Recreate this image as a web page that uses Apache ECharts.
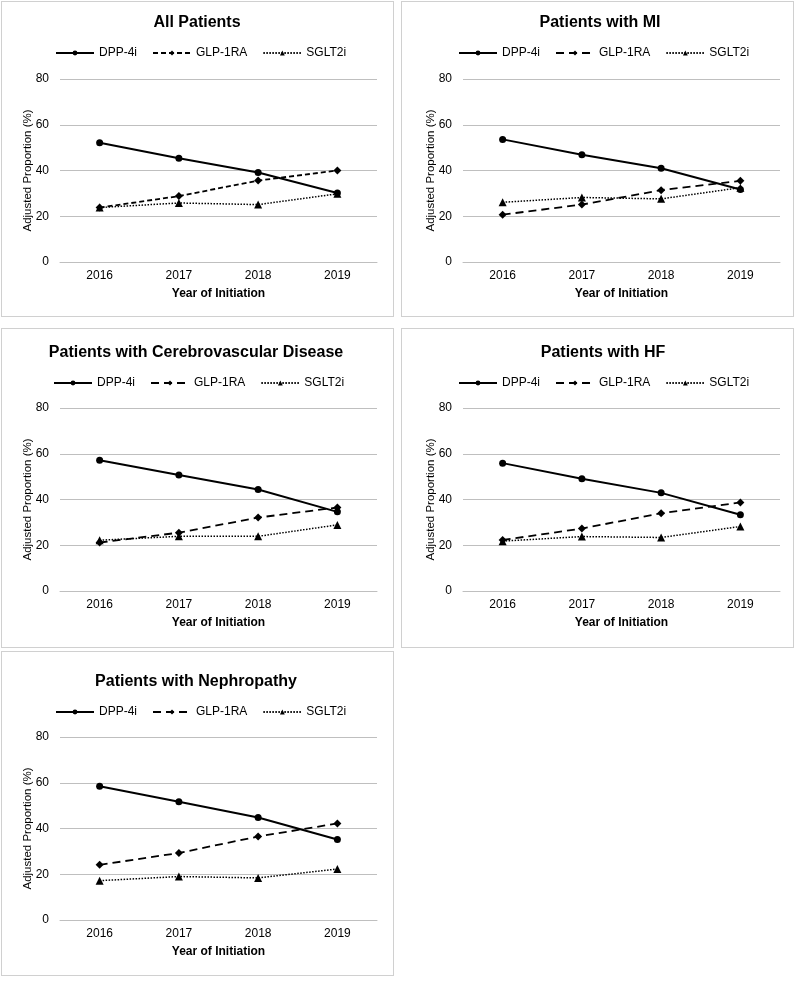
<!DOCTYPE html>
<html>
<head>
<meta charset="utf-8">
<script src="https://cdn.jsdelivr.net/npm/echarts@6/dist/echarts.min.js"></script>
<style>
  html, body { margin: 0; padding: 0; background: #fff; }
  body { width: 796px; height: 991px; position: relative; overflow: hidden; }
  .panel { position: absolute; border: 1px solid #d0d0d0; box-sizing: border-box; }
  .chart { position: absolute; left: 0; top: 0; right: 0; bottom: 0; }
</style>
</head>
<body>
<script>
// ---- Data ----
const years = ['2016', '2017', '2018', '2019'];
const seriesNames = ['DPP-4i', 'GLP-1RA', 'SGLT2i'];
const panelTitles = ['All Patients', 'Patients with MI', 'Patients with Cerebrovascular Disease', 'Patients with HF', 'Patients with Nephropathy'];

const dppAll = [52.1, 45.4, 39.1, 30.2];
const glpAll = [23.8, 28.8, 35.6, 40.0];
const sgltAll = [23.8, 25.8, 25.1, 29.8];

const dppMI = [53.6, 46.9, 41.0, 31.7];
const glpMI = [20.7, 25.1, 31.4, 35.5];
const sgltMI = [26.1, 28.2, 27.6, 32.5];

const dppCVD = [57.2, 50.7, 44.4, 34.6];
const glpCVD = [21.2, 25.5, 32.1, 36.5];
const sgltCVD = [22.2, 23.9, 23.9, 28.9];

const dppHF = [55.9, 49.1, 42.9, 33.3];
const glpHF = [22.3, 27.3, 34.0, 38.7];
const sgltHF = [21.8, 23.8, 23.4, 28.2];

const dppNeph = [58.5, 51.7, 44.8, 35.2];
const glpNeph = [24.1, 29.3, 36.5, 42.2];
const sgltNeph = [17.2, 19.0, 18.4, 22.3];

const yTicks = [0, 20, 40, 60, 80];
const xAxisTitle = 'Year of Initiation';
const yAxisTitle = 'Adjusted Proportion (%)';

const panelData = [
  [dppAll, glpAll, sgltAll],
  [dppMI, glpMI, sgltMI],
  [dppCVD, glpCVD, sgltCVD],
  [dppHF, glpHF, sgltHF],
  [dppNeph, glpNeph, sgltNeph]
];

// ---- Layout (panel boxes and positions within each panel) ----
const layout = [
  { box: [1, 1, 393, 316],   grid: [58, 77],  titleX: 195, titleY: 19, legendX: 53, legendY: 50, dash: [5, 3] },
  { box: [401, 1, 393, 316], grid: [61, 77],  titleX: 198, titleY: 19, legendX: 56, legendY: 50, dash: [8, 5] },
  { box: [1, 328, 393, 320], grid: [58, 79],  titleX: 194, titleY: 22, legendX: 51, legendY: 53, dash: [8, 5] },
  { box: [401, 328, 393, 320], grid: [61, 79], titleX: 201, titleY: 22, legendX: 56, legendY: 53, dash: [8, 5] },
  { box: [1, 651, 393, 325], grid: [58, 85],  titleX: 194, titleY: 28, legendX: 53, legendY: 59, dash: [8, 5] }
];

const FONT = '"Liberation Sans", Arial, sans-serif';
const symbols = ['circle', 'diamond', 'triangle'];
const symbolSizes = [7, 8, 8];

layout.forEach((L, i) => {
  const panel = document.createElement('div');
  panel.className = 'panel';
  panel.style.left = L.box[0] + 'px';
  panel.style.top = L.box[1] + 'px';
  panel.style.width = L.box[2] + 'px';
  panel.style.height = L.box[3] + 'px';
  const c = document.createElement('div');
  c.className = 'chart';
  panel.appendChild(c);
  document.body.appendChild(panel);

  const chart = echarts.init(c, null, { renderer: 'canvas' });
  const lineStyles = [
    { type: 'solid', width: 2 },
    { type: L.dash, width: 1.8 },
    { type: [1.5, 1.5], width: 1.5 }
  ];
  chart.setOption({
    animation: false,
    backgroundColor: '#fff',
    title: {
      text: panelTitles[i],
      left: L.titleX,
      top: L.titleY - 6,
      textAlign: 'center',
      padding: 0,
      textStyle: { fontFamily: FONT, fontSize: 16, fontWeight: 'bold', color: '#000' }
    },
    legend: {
      data: seriesNames,
      left: L.legendX,
      top: L.legendY - 5,
      padding: 0,
      itemWidth: 38,
      itemHeight: 6,
      itemGap: 15,
      textStyle: { fontFamily: FONT, fontSize: 12, color: '#000' }
    },
    grid: { left: L.grid[0], top: L.grid[1], width: 317, height: 183, containLabel: false },
    xAxis: {
      type: 'category',
      data: years,
      boundaryGap: true,
      axisLine: { show: true, lineStyle: { color: '#bfbfbf', width: 1 } },
      axisTick: { show: false },
      axisLabel: { fontFamily: FONT, fontSize: 12, color: '#000', margin: 8 },
      name: xAxisTitle,
      nameLocation: 'middle',
      nameGap: 26,
      nameMoveOverlap: false,
      nameTextStyle: { fontFamily: FONT, fontSize: 12, fontWeight: 'bold', color: '#000' }
    },
    yAxis: {
      type: 'value',
      min: yTicks[0],
      max: yTicks[yTicks.length - 1],
      interval: yTicks[1] - yTicks[0],
      axisLine: { show: false },
      axisTick: { show: false },
      splitLine: { show: true, lineStyle: { color: '#bfbfbf', width: 1 } },
      axisLabel: { fontFamily: FONT, fontSize: 12, color: '#000', margin: 11 },
      name: yAxisTitle,
      nameLocation: 'middle',
      nameGap: 26,
      nameRotate: 90,
      nameMoveOverlap: false,
      nameTextStyle: { fontFamily: FONT, fontSize: 11.5, color: '#000' }
    },
    series: seriesNames.map((name, k) => ({
      name: name,
      type: 'line',
      data: panelData[i][k],
      symbol: symbols[k],
      symbolSize: symbolSizes[k],
      showAllSymbol: true,
      color: '#000',
      itemStyle: { color: '#000' },
      lineStyle: Object.assign({ color: '#000' }, lineStyles[k]),
      z: 3 - k
    }))
  });
});
</script>
</body>
</html>
